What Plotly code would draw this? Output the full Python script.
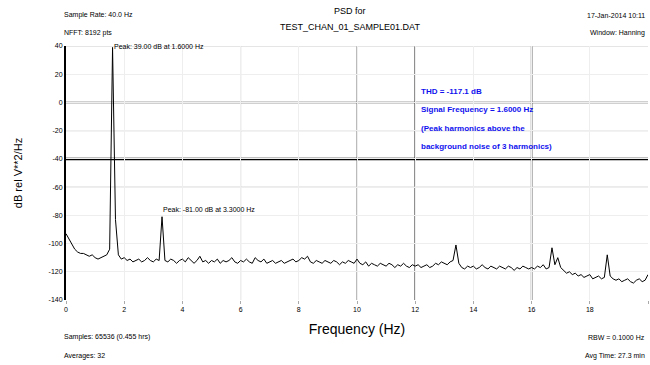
import plotly.graph_objects as go

# ---------------- data ----------------
freq_step = 0.1
psd_db = [
    -93, -97, -101, -104, -106, -107, -107, -108, -109, -108,
    -110, -111, -110, -109, -108, -104, 39, -83, -108, -111,
    -110, -112, -111, -113, -112, -111, -113, -112, -110, -112,
    -113, -111, -112, -81, -112, -113, -111, -112, -114, -112,
    -111, -113, -110, -112, -114, -112, -109, -113, -112, -114,
    -112, -113, -111, -114, -112, -113, -112, -110, -113, -114,
    -112, -113, -111, -113, -114, -110, -112, -113, -111, -114,
    -113, -112, -114, -113, -112, -114, -113, -112, -111, -113,
    -112, -110, -111, -109, -113, -114, -112, -113, -114, -112,
    -113, -114, -112, -113, -115, -113, -114, -112, -113, -114,
    -111, -114, -115, -113, -116, -114, -115, -116, -114, -115,
    -116, -114, -115, -117, -115, -116, -114, -116, -117, -115,
    -116, -115, -117, -116, -115, -117, -116, -114, -115, -113,
    -114, -115, -113, -112, -101, -114, -117, -118, -116, -117,
    -116, -118, -117, -115, -117, -118, -116, -117, -118, -116,
    -117, -118, -116, -117, -119, -117, -118, -116, -117, -118,
    -117, -118, -116, -117, -115, -118, -117, -103, -115, -110,
    -117, -119, -121, -120, -122, -121, -123, -122, -124, -123,
    -122, -125, -124, -123, -125, -124, -108, -123, -125, -126,
    -125, -127, -126, -125, -127, -128, -126, -125, -127, -126,
    -122,
]
freq_hz = [round(i * freq_step, 1) for i in range(len(psd_db))]

x_ticks = [0, 2, 4, 6, 8, 10, 12, 14, 16, 18, 20]
y_ticks = [40, 20, 0, -20, -40, -60, -80, -100, -120, -140]

title_lines = ["PSD for", "TEST_CHAN_01_SAMPLE01.DAT"]
top_left = ["Sample Rate: 40.0 Hz", "NFFT: 8192 pts"]
top_right = ["17-Jan-2014 10:11", "Window: Hanning"]
bottom_left = ["Samples: 65536 (0.455 hrs)", "Averages: 32"]
bottom_right = ["RBW = 0.1000 Hz", "Avg Time: 27.3 min"]
thd_lines = ["THD = -117.1 dB",
             "Signal Frequency = 1.6000 Hz",
             "(Peak harmonics above the",
             "background noise of 3 harmonics)"]
peak_freqs = [1.6, 3.3]

# ---------------- figure ----------------
FONT = "Liberation Sans, Arial, sans-serif"
fig = go.Figure()
fig.add_trace(go.Scatter(x=freq_hz, y=psd_db, mode="lines",
                         line=dict(color="black", width=1), showlegend=False,
                         hoverinfo="skip"))

L, R, T, B = 66, 2, 46, 65
W, H = 650, 365
pw, ph = W - L - R, H - T - B

def px(xp):
    return (xp - L) / pw

def py(yp):
    return (H - B - yp) / ph

fig.update_layout(
    width=W, height=H,
    margin=dict(l=L, r=R, t=T, b=B, autoexpand=False),
    paper_bgcolor="white", plot_bgcolor="white",
    font=dict(family=FONT, size=8, color="black"),
    xaxis=dict(range=[0, 20], tickvals=x_ticks, ticktext=[str(v) for v in x_ticks],
               showgrid=True, gridcolor="#eeeeee", gridwidth=1, zeroline=False,
               showline=False, ticks="outside", ticklen=3, tickcolor="#aaaaaa",
               tickfont=dict(size=7), fixedrange=True, automargin=False,
               title=dict(text="Frequency (Hz)", font=dict(size=14), standoff=11)),
    yaxis=dict(range=[-140, 40], tickvals=y_ticks, ticktext=[str(v) for v in y_ticks],
               showgrid=True, gridcolor="#eeeeee", gridwidth=1, zeroline=False,
               showline=True, linecolor="black", linewidth=2,
               ticks="", tickfont=dict(size=7), fixedrange=True, automargin=False,
               title=dict(text="dB rel V**2/Hz", font=dict(size=11), standoff=24)),
)

# emphasised grid lines
for xv, col, w in [(6, "#999999", 1), (10, "#777777", 1), (12, "#333333", 1.5), (16, "#333333", 1.5)]:
    fig.add_shape(type="line", xref="x", yref="paper", x0=xv, x1=xv, y0=0, y1=1,
                  line=dict(color=col, width=w), layer="below")
for yv, col, w in [(40, "#cccccc", 1), (0, "#444444", 1.5), (-20, "#aaaaaa", 1), (-40, "black", 2.5), (-60, "#cccccc", 1)]:
    fig.add_shape(type="line", xref="paper", yref="y", x0=0, x1=1, y0=yv, y1=yv,
                  line=dict(color=col, width=w), layer="below")

def txt(x, y, s, anchor="left", size=7, color="black", bold=False):
    fig.add_annotation(xref="paper", yref="paper", x=x, y=y, text=("<b>%s</b>" % s) if bold else s,
                       showarrow=False, xanchor=anchor, yanchor="middle",
                       font=dict(size=size, color=color, family=FONT))

# title
txt(px(350), py(11), title_lines[0], anchor="center", size=9)
txt(px(350), py(27), title_lines[1], anchor="center", size=9)
# corners
txt(px(62), py(15), top_left[0])
txt(px(62), py(33), top_left[1])
txt(px(647), py(15), top_right[0], anchor="right")
txt(px(647), py(33), top_right[1], anchor="right")
txt(px(62), py(337), bottom_left[0])
txt(px(62), py(356), bottom_left[1])
txt(px(647), py(337), bottom_right[0], anchor="right")
txt(px(647), py(356), bottom_right[1], anchor="right")

# THD text block
for s, yp in zip(thd_lines, [91, 109, 128, 146]):
    txt(px(419), py(yp), s, size=8, color="#1010ee", bold=True)

# peak annotations
for pf in peak_freqs:
    idx = freq_hz.index(pf)
    val = psd_db[idx]
    label = "Peak: %.2f dB at %.4f Hz" % (val, pf)
    yv = min(val, 37)
    fig.add_annotation(xref="x", yref="y", x=pf, y=yv, text=label, showarrow=False,
                       xanchor="left", yanchor="bottom", xshift=-1, yshift=-2 if val > 30 else 2,
                       font=dict(size=7, color="black", family=FONT))

fig.write_html("out.html", config={"displayModeBar": False},
               post_script="document.body.style.margin='0';document.body.style.overflow='hidden';")
